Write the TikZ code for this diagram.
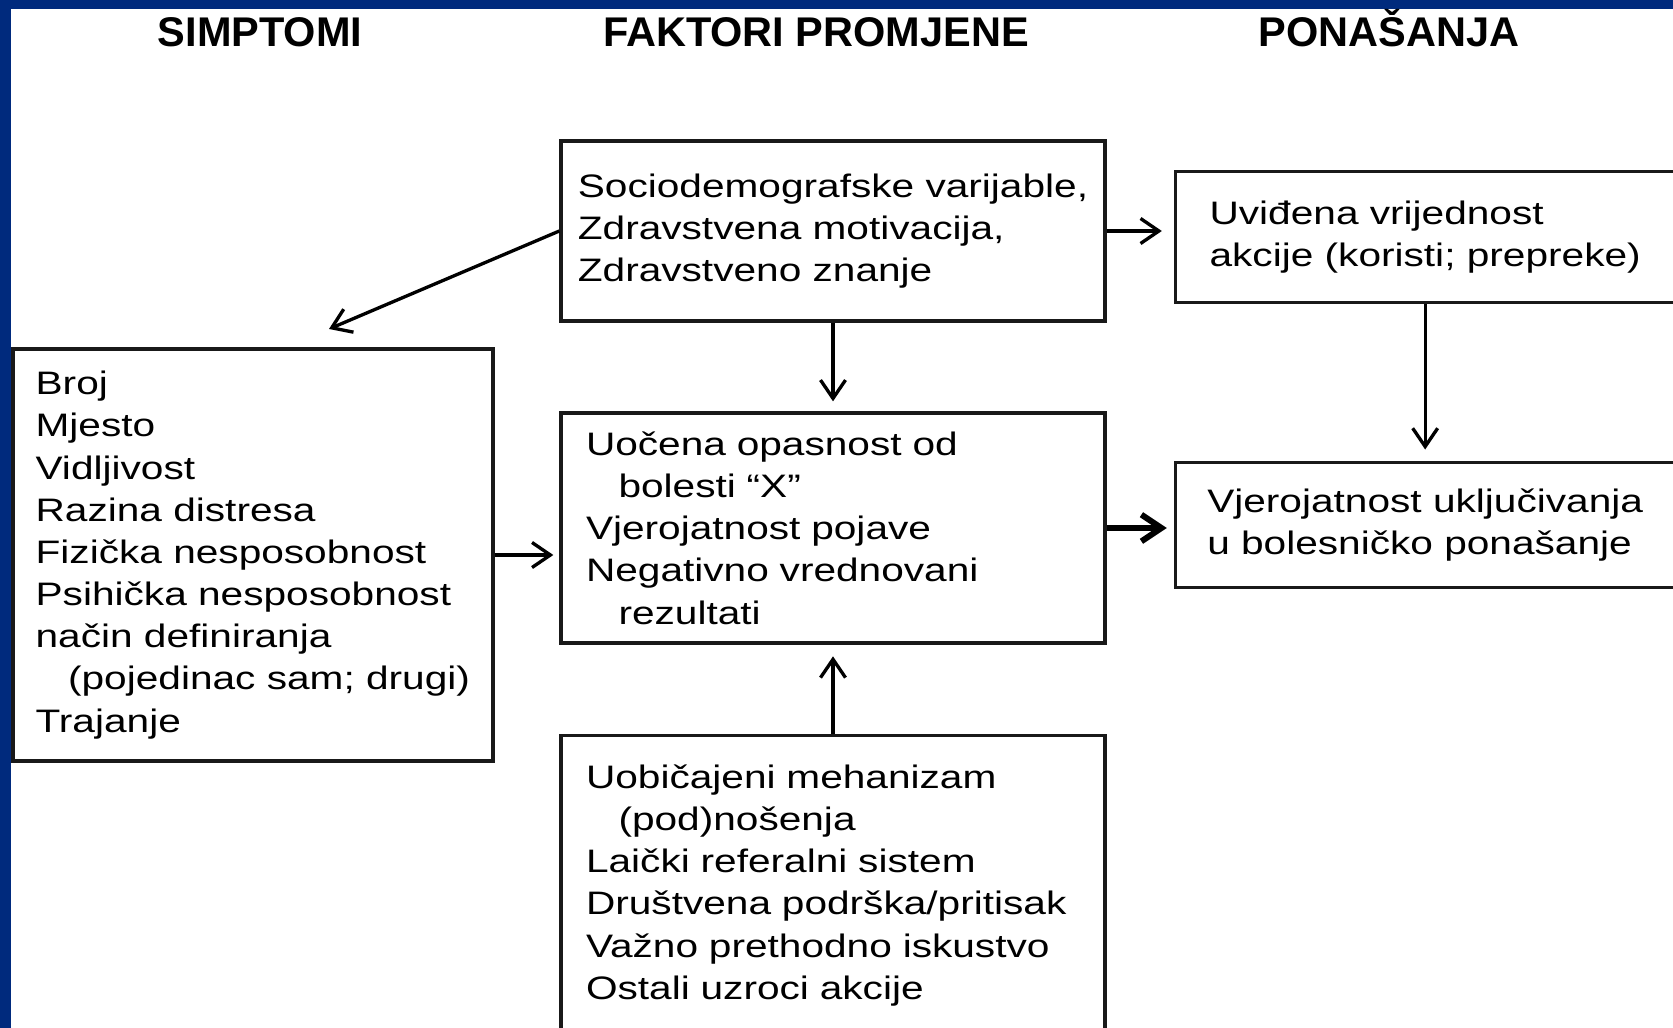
\documentclass[tikz,border=0pt]{standalone}
\usepackage{fontspec}
\setmainfont{Liberation Sans}[FakeStretch=1.25]
\newfontfamily\headfont{Liberation Sans}
\usetikzlibrary{arrows.meta,positioning}
\definecolor{slideblue}{RGB}{0,42,125}

\begin{document}
\begin{tikzpicture}[
  x=0.6pt, y=-0.6pt,
  box/.style={rectangle, draw=black!90, line width=2pt, align=left,
              inner sep=0pt, font=\fontsize{19.5}{25.3}\selectfont},
  head/.style={anchor=base, font=\headfont\bfseries\fontsize{24.9}{30}\selectfont},
  arr/.style={-{Straight Barb[length=11pt, width=15pt]}, line width=2pt},
  boldarr/.style={-{Straight Barb[length=12pt, width=16pt]}, line width=3.6pt}
]
\useasboundingbox (0,0) rectangle (1673,1028);
\clip (0,0) rectangle (1673,1028);
\fill[slideblue] (0,0) rectangle (1673,9);
\fill[slideblue] (0,0) rectangle (11,1028);

\node[head] (hSimptomi) at (260,47) {SIMPTOMI};
\node[head] (hFaktori) at (816,47) {FAKTORI PROMJENE};
\node[head] (hPonasanja) at (1389,47) {PONAŠANJA};

\node[box, minimum width=326.4pt, minimum height=138pt, text width=296.4pt] (uocena) at (833,528)
  {Uočena opasnost od\\\quad bolesti “X”\\Vjerojatnost pojave\\Negativno vrednovani\\\quad rezultati};
\node[box, minimum width=326.4pt, minimum height=108pt, above=53.2pt of uocena] (varijable)
  {Sociodemografske varijable,\\Zdravstvena motivacija,\\Zdravstveno znanje};
\node[box, minimum width=326.4pt, minimum height=180pt, text width=296.4pt, below=53.4pt of uocena] (mehanizam)
  {Uobičajeni mehanizam\\\quad(pod)nošenja\\Laički referalni sistem\\Društvena podrška/pritisak\\Važno prethodno iskustvo\\Ostali uzroci akcije};
\node[box, minimum width=288pt, minimum height=247.2pt, left=38.9pt of uocena, yshift=-16.2pt] (simptomi)
  {Broj\\Mjesto\\Vidljivost\\Razina distresa\\Fizička nesposobnost\\Psihička nesposobnost\\način definiranja\\\quad(pojedinac sam; drugi)\\Trajanje};
\node[box, minimum width=300pt, minimum height=75pt, right=40.1pt of uocena, yshift=2pt] (ukljucivanje)
  {Vjerojatnost uključivanja\\u bolesničko ponašanje};
\node[box, minimum width=300pt, minimum height=78.6pt, above=93.8pt of ukljucivanje] (vrijednost)
  {Uviđena vrijednost\\akcije (koristi; prepreke)};

% connectors
\coordinate (simpTip) at (329,329);
\draw[arr] (varijable.west) -- (simpTip);
\draw[arr, shorten >=6pt] (varijable) -- (uocena);
\draw[arr, shorten >=7pt] (mehanizam) -- (uocena);
\draw[arr, shorten >=3.6pt] (simptomi.east) -- (simptomi.east -| uocena.west);
\draw[arr, shorten >=7pt] (varijable.east) -- (varijable.east -| vrijednost.west);
\draw[arr, shorten >=6.6pt] (vrijednost) -- (ukljucivanje);
\draw[boldarr, shorten >=4pt] (uocena.east) -- (uocena.east -| ukljucivanje.west);
\end{tikzpicture}
\end{document}
